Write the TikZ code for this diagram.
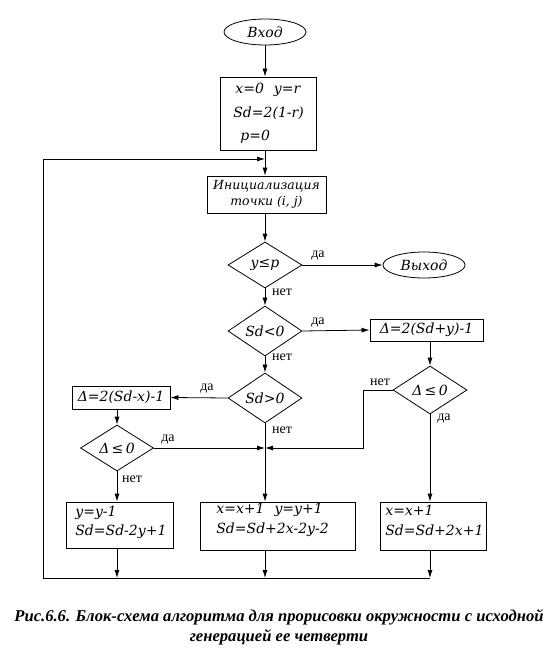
\documentclass[tikz,border=0pt]{standalone}
\usepackage{fontspec}
\setmainfont{Liberation Serif}
\newfontfamily\boxfont{DejaVu Serif}
\usetikzlibrary{shapes.geometric,arrows.meta,calc}
\begin{document}
\begin{tikzpicture}[x=1pt,y=-1pt,
  every path/.style={line width=0.8pt},
  arr/.style={-{Latex[length=8pt,width=5pt]}},
  txt/.style={font=\boxfont\fontsize{14}{16}\selectfont\itshape, inner sep=0pt},
  term/.style={ellipse, draw, minimum width=82pt, minimum height=26pt, inner sep=0pt, txt},
  proc/.style={rectangle, draw, inner sep=0pt, txt},
  dec/.style={diamond, draw, inner sep=0pt, minimum width=74pt, txt},
  lab/.style={font=\fontsize{14}{15}\selectfont, inner sep=0pt},
  btxt/.style={txt, anchor=west},
  captxt/.style={font=\fontsize{16.6}{20}\selectfont\bfseries\itshape, inner sep=0pt}]
\useasboundingbox (0,0) rectangle (559,668);
\fill[white] (0,0) rectangle (559,668);

% nodes
\node[term] (vhod) at (265,32) {Вход};
\node[proc, minimum width=96pt, minimum height=73pt] (init) at (268,113.5) {};
\node[btxt] (i1) at (235,90) {x=0\hspace{10pt}y=r};
\node[btxt] (i2) at (233,113) {Sd=2(1-r)};
\node[btxt] (i3) at (240,137) {p=0};
\node[proc, minimum width=119pt, minimum height=37pt, align=center, font=\boxfont\fontsize{12.5}{16}\selectfont\itshape] (pt) at (266.5,194.5) {Инициализация\\точки (i, j)};
\node[dec, minimum height=46pt] (d1) at (265,265) {y≤p};
\node[term] (vyhod) at (424,265) {Выход};
\node[dec, minimum height=42pt] (d2) at (265,331) {Sd<0};
\node[proc, minimum width=113pt, minimum height=22pt] (b1) at (426.5,330) {Δ=2(Sd+y)-1};
\node[dec, minimum height=48pt] (d3) at (430,390) {Δ\,≤\,0};
\node[dec, minimum height=46pt] (d4) at (265,398) {Sd>0};
\node[proc, minimum width=98pt, minimum height=23pt] (b2) at (121,397.5) {Δ=2(Sd-x)-1};
\node[dec, minimum width=73pt, minimum height=43pt] (d5) at (117,448) {Δ\,≤\,0};
\node[proc, minimum width=107pt, minimum height=46pt] (b3) at (119.5,525) {};
\node[btxt] (b3a) at (75,513) {y=y-1};
\node[btxt] (b3b) at (75,532) {Sd=Sd-2y+1};
\node[proc, minimum width=155pt, minimum height=48pt] (b4) at (277.5,526) {};
\node[btxt] (b4a) at (216,510) {x=x+1\hspace{10pt}y=y+1};
\node[btxt] (b4b) at (216,530) {Sd=Sd+2x-2y-2};
\node[proc, minimum width=106pt, minimum height=48pt] (b5) at (433,526) {};
\node[btxt] (b5a) at (385,510) {x=x+1};
\node[btxt] (b5b) at (385,530) {Sd=Sd+2x+1};

% labels
\node[lab] (l1) at (318,256) {да};
\node[lab] (l2) at (282,292) {нет};
\node[lab] (l3) at (318,323) {да};
\node[lab] (l4) at (282,357) {нет};
\node[lab] (l5) at (207,389) {да};
\node[lab] (l6) at (282,430) {нет};
\node[lab] (l7) at (168,440) {да};
\node[lab] (l8) at (132,479) {нет};
\node[lab] (l9) at (380,382) {нет};
\node[lab] (l10) at (444,419) {да};

% coordinates
\coordinate (loopL) at (43,578);
\coordinate (loopT) at (43,159);
\coordinate (j) at (265,448);
\coordinate (bend1) at (363,390);
\coordinate (bend2) at (363,448);

% connectors
\draw[arr] (vhod) -- (vhod.south |- init.north);
\draw[arr] (d1.north |- init.south) -- (d1.north |- pt.north);
\draw[arr] (loopL) -- (loopT) -- (loopT -| d1.north);
\draw[arr] (d1.north |- pt.south) -- (d1.north);
\draw[arr] (d1.east) -- (vyhod.west);
\draw[arr] (d1.south) -- (d2.north);
\draw[arr] (d2.east) -- (b1.west);
\draw[arr] (d2.south) -- (d4.north);
\draw[arr] (d3.north |- b1.south) -- (d3.north);
\draw[arr] (d3.west) -- (bend1) -- (bend2) -- (j);
\draw[arr] (d3.south) -- (d3.south |- b5.north);
\draw[arr] (d4.west) -- (b2.east);
\draw[arr] (d5.north |- b2.south) -- (d5.north);
\draw[arr] (d5.east) -- (j);
\draw[arr] (d5.south) -- (d5.south |- b3.north);
\draw[arr] (d4.south) -- (d4.south |- b4.north);
\draw[arr] (d5.south |- b3.south) -- (d5.south |- loopL);
\draw[arr] (d4.south |- b4.south) -- (d4.south |- loopL);
\draw[arr] (d3.south |- b5.south) -- (d3.south |- loopL);
\draw (loopL) -- (d3.south |- loopL);

% caption
\node[captxt] (cap1) at (279,617) {Рис.6.6. Блок-схема алгоритма для прорисовки окружности с исходной};
\node[captxt] (cap2) at (279,637) {генерацией ее четверти};
\end{tikzpicture}
\end{document}
